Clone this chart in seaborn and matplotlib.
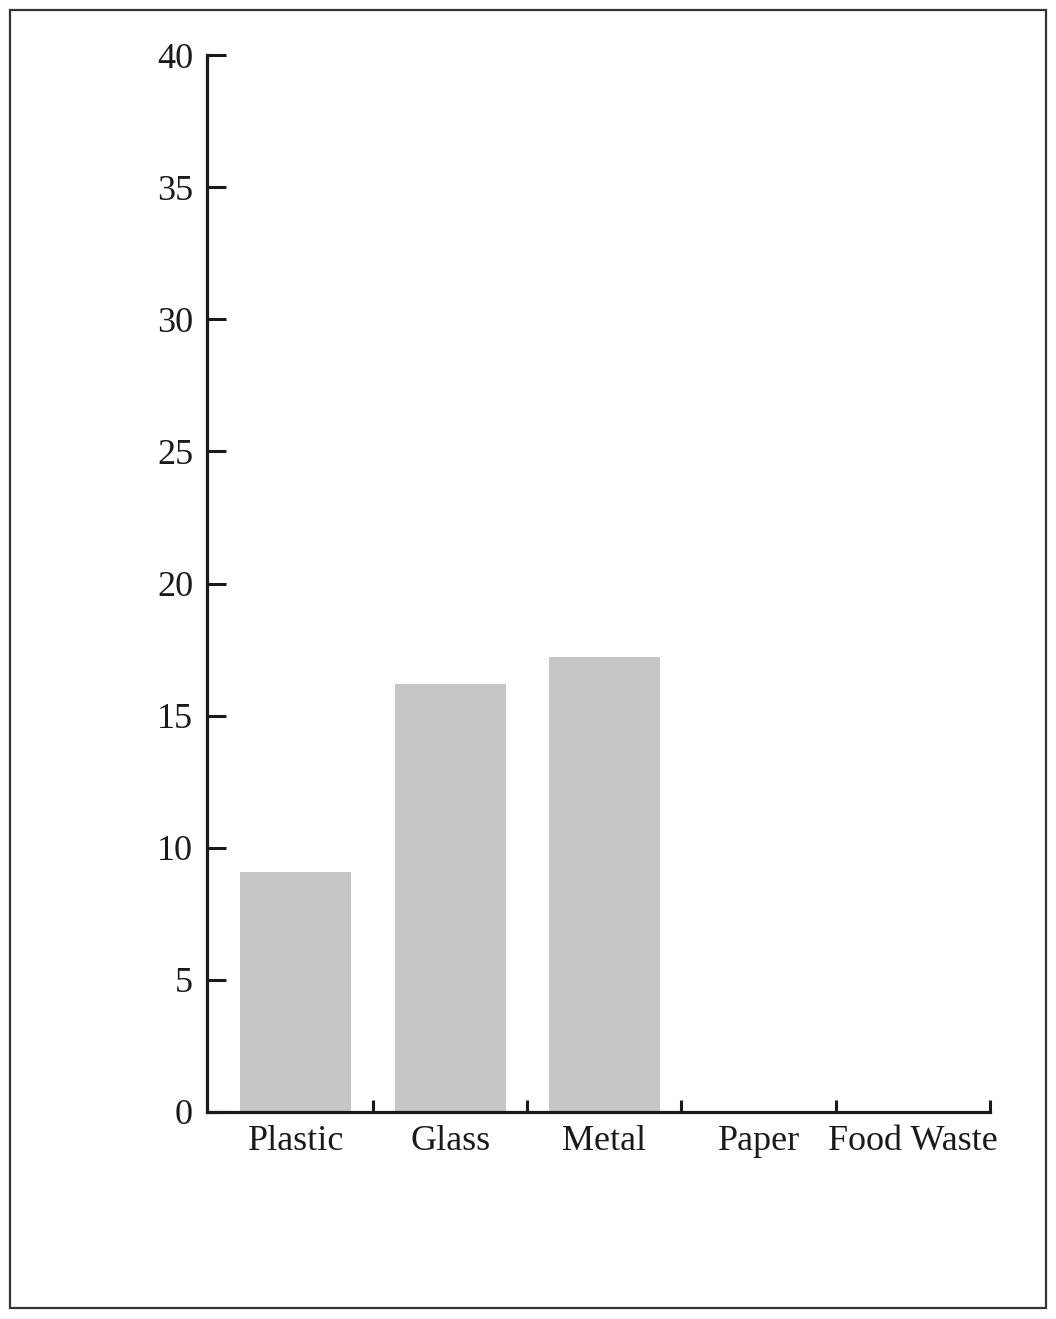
import pandas as pd
import seaborn as sns
from matplotlib import pyplot as plt
from matplotlib.patches import Rectangle
from matplotlib.ticker import FixedLocator

categories = ["Plastic", "Glass", "Metal", "Paper", "Food Waste"]
values = [9.1, 16.2, 17.2, 0, 0]
yticks = [0, 5, 10, 15, 20, 25, 30, 35, 40]

df = pd.DataFrame({"Material": categories, "Value": values})

sns.set_style("white")
plt.rcParams["font.family"] = ["Liberation Serif", "DejaVu Serif"]

fig = plt.figure(figsize=(10.56, 13.19), dpi=100)
ax = fig.add_axes([207 / 1056, 1 - 1112 / 1319, (990 - 207) / 1056, (1112 - 55) / 1319])

sns.barplot(data=df, x="Material", y="Value", color="#c6c6c6", width=0.72,
            saturation=1, ax=ax, linewidth=0)

ax.set_xlim(-0.576, 4.5)
ax.set_ylim(0, 40)
ax.set_yticks(yticks)
ax.set_xlabel("")
ax.set_ylabel("")

sns.despine(ax=ax)
for side in ["left", "bottom"]:
    ax.spines[side].set_linewidth(2.3)
    ax.spines[side].set_color("#1a1a1a")

ax.tick_params(axis="y", direction="in", length=14, width=2.2, color="#1a1a1a",
               labelsize=26, pad=10, left=True)
ax.tick_params(axis="x", which="major", length=0, labelsize=26, pad=9)
ax.xaxis.set_minor_locator(FixedLocator([0.5, 1.5, 2.5, 3.5, 4.5]))
ax.tick_params(axis="x", which="minor", direction="in", length=9, width=2.2,
               color="#1a1a1a", bottom=True)
for lab in ax.get_xticklabels() + ax.get_yticklabels():
    lab.set_color("#1a1a1a")

fig.patches.append(Rectangle((10 / 1056, 1 - 1308 / 1319), 1036 / 1056, 1298 / 1319,
                             transform=fig.transFigure, fill=False,
                             edgecolor="#333333", linewidth=1.6))

fig.savefig("out.png", dpi=100)
